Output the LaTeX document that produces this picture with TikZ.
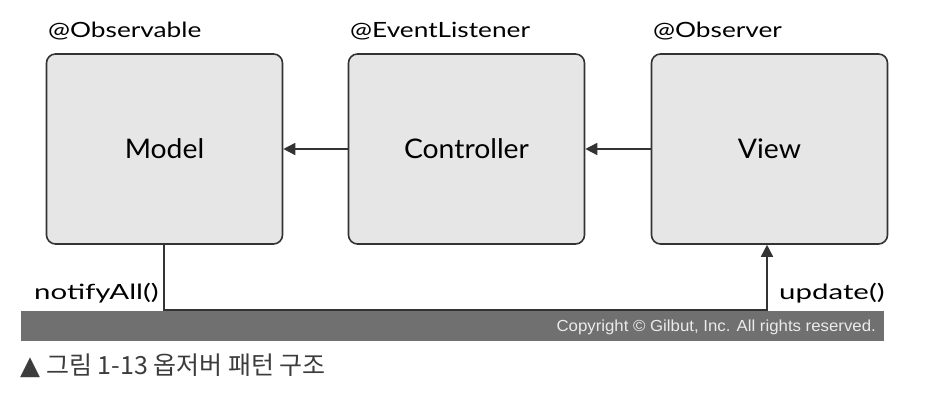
\documentclass[tikz,border=0pt]{standalone}
\usepackage{fontspec}
\setmainfont{Lato}
\newfontfamily\tagfont[FakeStretch=1.25]{Lato}
\newfontfamily\lblfont[FakeStretch=1.4]{Lato}
\newfontfamily\boxfont[FakeStretch=1.05]{Lato}
\newfontfamily\cjkfont{Noto Sans CJK KR}
\newfontfamily\copyfont[FakeStretch=1.05]{Liberation Sans}
\newfontfamily\symfont{DejaVu Sans}
\usetikzlibrary{arrows.meta}
\definecolor{boxfill}{HTML}{E6E6E6}
\definecolor{boxline}{HTML}{333333}
\definecolor{barcol}{HTML}{707070}
\definecolor{capcol}{HTML}{3C3C3C}
\begin{document}
\begin{tikzpicture}[x=1pt,y=1pt,
  box/.style={draw=boxline,fill=boxfill,line width=1.6pt,rounded corners=9pt,minimum width=236pt,minimum height=190pt,inner sep=0pt,font=\boxfont\fontsize{27}{30}\selectfont},
  tag/.style={anchor=west,font=\tagfont\fontsize{21}{24}\selectfont,text=black,inner sep=0pt},
  conn/.style={draw=boxline,line width=1.6pt},
  arr/.style={conn,-{Triangle[length=12pt,width=12pt]}},
  lbl/.style={font=\lblfont\fontsize{21}{24}\selectfont,inner sep=0pt}]
\useasboundingbox (0,0) rectangle (946,414);
% gray bar
\node[fill=barcol,minimum width=863pt,minimum height=30pt,inner sep=0pt,anchor=south west] (bar) at (21,73) {};
\node[anchor=east,inner sep=0pt,text=white!92!black,font=\copyfont\fontsize{16}{18}\selectfont] (copy) at (876,87) {Copyright © Gilbut, Inc. All rights reserved.};
% boxes
\node[box] (model) at (164.5,265) {Model};
\node[box] (ctrl) at (466.5,265) {Controller};
\node[box] (view) at (769.5,265) {View};
% tags
\node[tag] (t1) at (48,383) {@Observable};
\node[tag] (t2) at (350,383) {@EventListener};
\node[tag] (t3) at (653,383) {@Observer};
% arrows
\draw[arr] (ctrl.west) -- (model.east);
\draw[arr] (view.west) -- (ctrl.east);
\coordinate (c1) at (164,104);
\coordinate (c2) at (767,104);
\draw[arr,rounded corners=0pt] (model.south -| c1) -- (c1) -- (c2) -- (view.south -| c2);
% labels
\node[lbl,anchor=east] (na) at (159,121) {notifyAll()};
\node[lbl,anchor=west] (up) at (779,121) {update()};
% caption
\node[anchor=west,inner sep=0pt,text=capcol,font=\cjkfont\fontsize{25}{28}\selectfont] (cap) at (20,48) {{\symfont\fontsize{26}{28}\selectfont ▲}\kern6pt 그림 1-13 옵저버 패턴 구조};
\end{tikzpicture}
\end{document}
